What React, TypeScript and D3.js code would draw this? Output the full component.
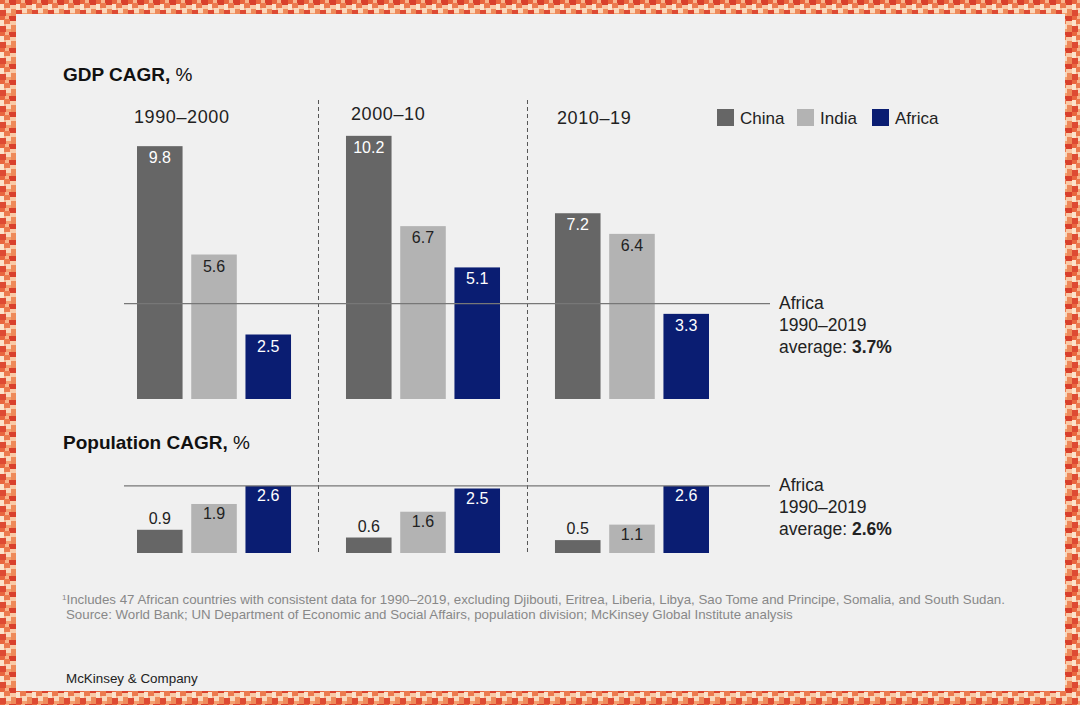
import React from "react";
import * as d3 from "d3";

const periods = ["1990–2000", "2000–10", "2010–19"];
const series = ["China", "India", "Africa"];
const gdpValues = [
  [9.8, 5.6, 2.5],
  [10.2, 6.7, 5.1],
  [7.2, 6.4, 3.3],
];
const popValues = [
  [0.9, 1.9, 2.6],
  [0.6, 1.6, 2.5],
  [0.5, 1.1, 2.6],
];
const gdpAverage = 3.7;
const popAverage = 2.6;
const colors = ["#666666", "#b3b3b3", "#0a1d72"];
const labelColors = ["#ffffff", "#222222", "#ffffff"];

const footnotes = [
  "Includes 47 African countries with consistent data for 1990–2019, excluding Djibouti, Eritrea, Liberia, Libya, Sao Tome and Principe, Somalia, and South Sudan.",
  "Source: World Bank; UN Department of Economic and Social Affairs, population division; McKinsey Global Institute analysis",
];

// border tile decoration
const tile = [
  [0, 0, 5, 4, "#e9663f"], [5, 0, 4, 3, "#f7b48c"], [9, 0, 7, 5, "#d9402c"],
  [0, 4, 4, 6, "#fbe3cc"], [4, 3, 6, 5, "#ec7a4e"], [10, 5, 6, 4, "#f9c9a6"],
  [0, 10, 6, 6, "#de4a33"], [6, 8, 5, 5, "#fad7bb"], [11, 9, 5, 7, "#ee8a5a"],
  [6, 13, 5, 3, "#f4a070"],
];

const font = "'Liberation Sans', Arial, sans-serif";

export default function App() {
  const width = 1080, height = 705;
  const gdpBase = 399, popBase = 553;

  const x = d3.scaleBand<string>().domain(periods).range([137, 709]).paddingInner(0.263).paddingOuter(0);
  const xi = d3.scaleBand<string>().domain(series).range([0, x.bandwidth()]).paddingInner(0.16);
  const h = d3.scaleLinear().domain([0, 1]).range([0, 25.8]);

  const lineX1 = 124, lineX2 = 770;
  const dividers = periods.slice(1).map((p, i) => {
    const prevEnd = x(periods[i])! + x.bandwidth();
    return (prevEnd + x(p)!) / 2;
  });

  return (
    <div>
      <style>{"body{margin:0}"}</style>
      <svg width={width} height={height} style={{ display: "block", fontFamily: font }}>
        <defs>
          <pattern id="border" width={16} height={16} patternUnits="userSpaceOnUse">
            <rect width={16} height={16} fill="#f6b894" />
            {tile.map(([tx, ty, tw, th, c], i) => (
              <rect key={i} x={tx as number} y={ty as number} width={tw as number} height={th as number} fill={c as string} />
            ))}
          </pattern>
        </defs>
        <rect width={width} height={height} fill="url(#border)" />
        <rect x={16} y={14} width={1049} height={677} fill="#f0f0f0" />

        {/* titles */}
        <text x={63} y={81} fontSize={19} fill="#111">
          <tspan fontWeight="bold">GDP CAGR,</tspan> %
        </text>
        <text x={63} y={449} fontSize={19} fill="#111">
          <tspan fontWeight="bold">Population CAGR,</tspan> %
        </text>

        {/* period labels */}
        {periods.map((p, i) => (
          <text key={p} x={x(p)! + [-3, 5, 2][i]} y={[123, 120, 124][i]} fontSize={18} letterSpacing={0.6} fill="#222">{p}</text>
        ))}

        {/* legend */}
        {series.map((s, i) => {
          const lx = [717, 797, 872][i];
          return (
            <g key={s}>
              <rect x={lx} y={109} width={17} height={17} fill={colors[i]} />
              <text x={lx + 23} y={124} fontSize={17} fill="#222">{s}</text>
            </g>
          );
        })}

        {/* dividers */}
        {dividers.map((dx, i) => (
          <line key={i} x1={dx} x2={dx} y1={100} y2={553} stroke="#555" strokeWidth={1} strokeDasharray="4,3" />
        ))}

        {/* GDP bars */}
        {periods.map((p, pi) => (
          <g key={p} transform={`translate(${x(p)},0)`}>
            {series.map((s, si) => {
              const v = gdpValues[pi][si];
              const top = gdpBase - h(v);
              return (
                <g key={s}>
                  <rect x={xi(s)} y={top} width={xi.bandwidth()} height={h(v)} fill={colors[si]} />
                  <text x={xi(s)! + xi.bandwidth() / 2} y={top + 17} textAnchor="middle" fontSize={16} fill={labelColors[si]}>
                    {v.toFixed(1)}
                  </text>
                </g>
              );
            })}
          </g>
        ))}

        {/* population bars */}
        {periods.map((p, pi) => (
          <g key={p} transform={`translate(${x(p)},0)`}>
            {series.map((s, si) => {
              const v = popValues[pi][si];
              const top = popBase - h(v);
              const ly = si === 0 ? top - 6 : top + 15;
              return (
                <g key={s}>
                  <rect x={xi(s)} y={top} width={xi.bandwidth()} height={h(v)} fill={colors[si]} />
                  <text x={xi(s)! + xi.bandwidth() / 2} y={ly} textAnchor="middle" fontSize={16}
                    fill={si === 0 ? "#222" : labelColors[si]}>
                    {v.toFixed(1)}
                  </text>
                </g>
              );
            })}
          </g>
        ))}

        {/* average lines */}
        {[[gdpBase - h(gdpAverage), gdpAverage], [popBase - h(popAverage), popAverage]].map(([ly, avg], i) => (
          <g key={i}>
            <line x1={lineX1} x2={lineX2} y1={ly} y2={ly} stroke="#777" strokeWidth={1.2} />
            <text x={779} y={ly + 5} fontSize={17.5} fill="#222">Africa</text>
            <text x={779} y={ly + 27} fontSize={17.5} fill="#222">1990–2019</text>
            <text x={779} y={ly + 49} fontSize={17.5} fill="#222">
              average: <tspan fontWeight="bold">{avg.toFixed(1)}%</tspan>
            </text>
          </g>
        ))}

        {/* footnotes */}
        <text x={62} y={604} fontSize={13.3} fill="#888">
          <tspan fontSize={8} dy={-4}>1</tspan><tspan dy={4}>{footnotes[0]}</tspan>
        </text>
        <text x={66} y={619} fontSize={13.3} fill="#888">{footnotes[1]}</text>

        <text x={66} y={683} fontSize={13.4} fill="#222">McKinsey &amp; Company</text>
      </svg>
    </div>
  );
}
